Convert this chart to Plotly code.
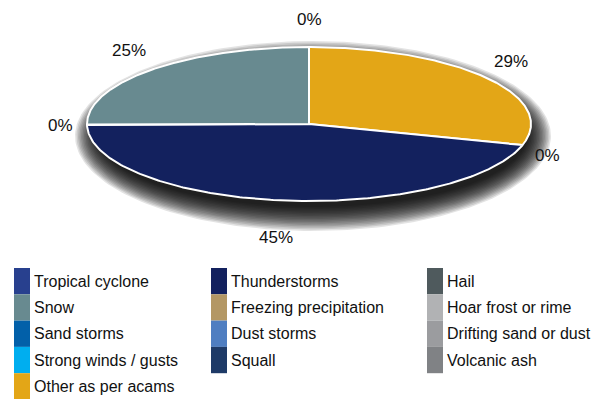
import numpy as np
import plotly.graph_objects as go

# ---- data ----
categories = ["Tropical cyclone", "Thunderstorms", "Hail",
              "Snow", "Freezing precipitation", "Hoar frost or rime",
              "Sand storms", "Dust storms", "Drifting sand or dust",
              "Strong winds / gusts", "Squall", "Volcanic ash",
              "Other as per acams"]
values = [0, 54, 0,
          30, 0, 0,
          0, 0, 0,
          0, 0, 0,
          35]
colors = ["#28408E", "#13215E", "#4F5A5D",
          "#688A90", "#B39764", "#B1B2B4",
          "#0260A9", "#4F7EC1", "#9B9C9F",
          "#00AEEF", "#1E3A67", "#808285",
          "#E3A617"]
# order in which slices are drawn clockwise from 12 o'clock
pie_order = ["Tropical cyclone", "Other as per acams", "Hail", "Thunderstorms",
             "Freezing precipitation", "Snow", "Hoar frost or rime",
             "Sand storms", "Dust storms", "Drifting sand or dust",
             "Strong winds / gusts", "Squall", "Volcanic ash"]

W, H = 600, 399
cx, cy, rx, ry = 309, 124, 222, 77
DEPTH = 10
FONT = "Liberation Sans, Arial, sans-serif"
LABEL_SIZE = 17

fig = go.Figure()

def ellipse_pts(x0, y0, ax, ay, a0, a1, n=240):
    t = np.radians(np.linspace(a0, a1, n))
    return x0 + ax * np.sin(t), y0 - ay * np.cos(t)

# ---- soft drop shadow (stack of translucent ellipses) ----
for k in range(17):
    d = 14 - 1.5 * k
    ex, ey = ellipse_pts(cx + 4, cy + 12, rx + 2 + d, ry + 4 + d, 0, 360)
    fig.add_trace(go.Scatter(x=ex, y=ey, mode="lines", fill="toself",
                             fillcolor="rgba(0,0,0,0.11)", line=dict(width=0),
                             hoverinfo="skip", showlegend=False))

# ---- slices ----
total = sum(values)
cum = 0.0
label_seen = []
annotations = []
for name in pie_order:
    i = categories.index(name)
    v = values[i]
    a0 = cum / total * 360
    cum += v
    a1 = cum / total * 360
    if v > 0:
        ex, ey = ellipse_pts(cx, cy, rx, ry, a0, a1)
        fig.add_trace(go.Scatter(x=np.r_[cx, ex, cx], y=np.r_[cy, ey, cy],
                                 mode="lines", fill="toself", fillcolor=colors[i],
                                 line=dict(color="white", width=2),
                                 hoverinfo="skip", showlegend=False))
    mid = (a0 + a1) / 2 % 360
    key = round(mid, 1)
    if key in label_seen:
        continue
    label_seen.append(key)
    txt = f"{round(v / total * 100)}%"
    tw = LABEL_SIZE * (0.556 * (len(txt) - 1) + 0.889)
    th = LABEL_SIZE
    s, c = np.sin(np.radians(mid)), np.cos(np.radians(mid))
    lx = cx + 236 * s + tw / 2 * s
    ly = cy - 96 * c - th / 2 * c + DEPTH * max(0.0, -c)
    annotations.append(dict(x=lx, y=ly, text=txt,
                            showarrow=False, xanchor="center", yanchor="middle",
                            font=dict(family=FONT, size=LABEL_SIZE, color="#111111")))

# ---- legend (3 columns, row-major) ----
col_x = [14, 211, 427]
row_y0, row_h = 268, 26.3
shapes = []
for i, name in enumerate(categories):
    c, r = i % 3, i // 3
    x0 = col_x[c]
    y0 = row_y0 + r * row_h
    shapes.append(dict(type="rect", xref="x", yref="y", x0=x0, x1=x0 + 16,
                       y0=y0, y1=y0 + row_h, fillcolor=colors[i],
                       line=dict(width=0), layer="above"))
    annotations.append(dict(x=x0 + 18, y=y0 + row_h / 2, text=name,
                            showarrow=False, xanchor="left", yanchor="middle",
                            font=dict(family=FONT, size=16, color="#111111")))

fig.update_layout(
    width=W, height=H,
    margin=dict(l=0, r=0, t=0, b=0),
    paper_bgcolor="white", plot_bgcolor="white",
    xaxis=dict(range=[0, W], visible=False, fixedrange=True),
    yaxis=dict(range=[H, 0], visible=False, fixedrange=True),
    shapes=shapes, annotations=annotations, showlegend=False,
)
fig.write_html("out.html")
